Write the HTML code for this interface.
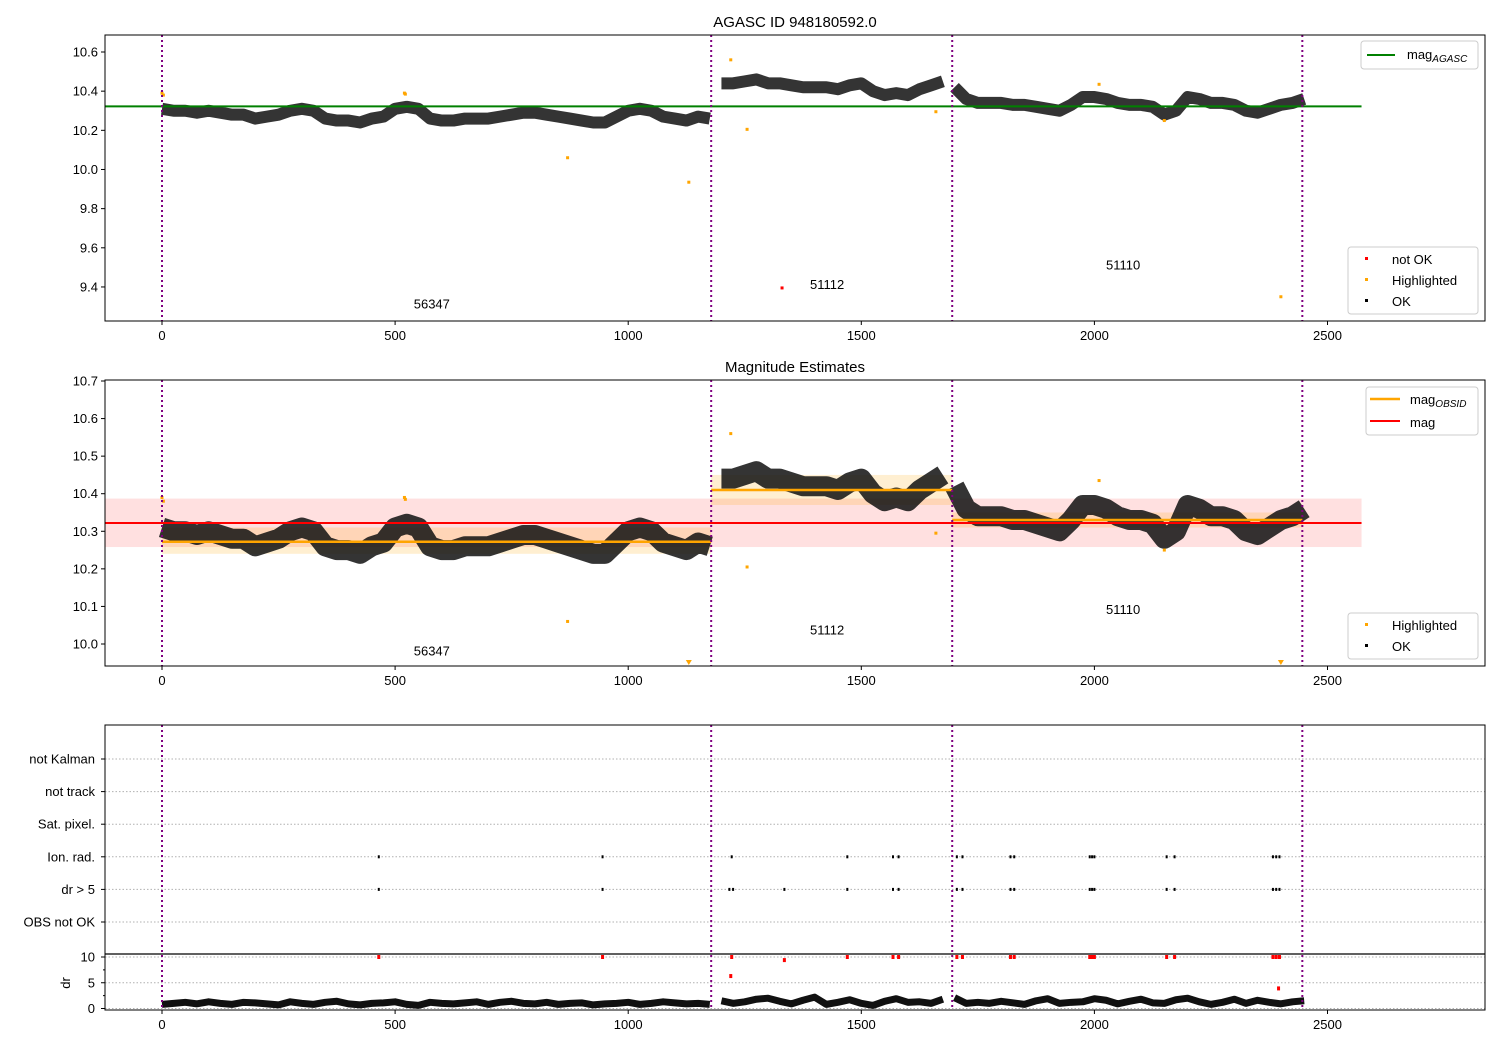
<!DOCTYPE html>
<html><head><meta charset="utf-8">
<style>
body{margin:0;background:#fff;}
svg{display:block;font-family:"Liberation Sans","DejaVu Sans",sans-serif;}
</style></head>
<body>
<svg id="c" width="1500" height="1050" viewBox="0 0 1500 1050" xmlns="http://www.w3.org/2000/svg"></svg>
<script>
// ---- data ----
const STEP = 25;
const mags = [10.31,10.30,10.30,10.29,10.30,10.29,10.28,10.28,10.26,10.27,
 10.28,10.30,10.31,10.30,10.26,10.25,10.25,10.24,10.26,10.27,
 10.31,10.32,10.31,10.26,10.25,10.25,10.26,10.26,10.26,10.27,
 10.28,10.29,10.29,10.28,10.27,10.26,10.25,10.24,10.24,10.27,
 10.30,10.31,10.30,10.27,10.26,10.25,10.27,10.26,10.44,10.44,
 10.45,10.46,10.44,10.44,10.43,10.42,10.42,10.42,10.41,10.43,
 10.44,10.40,10.38,10.39,10.38,10.41,10.43,10.45,10.42,10.36,
 10.34,10.34,10.34,10.33,10.33,10.32,10.31,10.30,10.33,10.37,
 10.37,10.36,10.34,10.33,10.33,10.32,10.28,10.30,10.37,10.36,
 10.34,10.34,10.33,10.30,10.29,10.31,10.33,10.34,10.36];
const drs = [0.8,1.0,1.2,0.9,1.3,1.0,0.8,1.2,1.1,0.9,0.7,1.3,1.0,0.8,1.2,1.4,0.9,0.7,1.0,1.1,
 1.3,0.8,0.6,1.2,1.0,0.9,1.1,1.3,0.8,1.2,1.4,1.0,0.9,1.2,0.8,1.0,1.1,0.7,0.9,1.0,
 1.2,0.8,1.0,1.3,1.1,0.9,1.0,0.8,1.5,1.0,1.3,1.8,2.0,1.4,0.9,1.6,2.2,0.8,1.2,1.7,
 1.0,0.6,1.4,1.9,1.2,1.3,1.0,1.8,2.1,1.0,1.2,1.0,1.4,1.1,0.8,1.5,1.9,1.0,1.2,1.3,
 1.9,1.6,0.9,1.4,1.8,1.1,1.0,1.7,2.0,1.3,0.8,1.2,1.8,1.0,1.6,1.2,0.9,1.3,1.5];
const hiX = [0,3,520,522,870,1130,1220,1255,1660,2010,2150,2400];
const hiY = [10.39,10.38,10.39,10.385,10.06,9.935,10.56,10.205,10.295,10.435,10.25,9.35];
const badX = [1330], badY = [9.395];
const obsBounds = [0,1178,1695,2446];
const obsNames = ['56347','51112','51110'];
const obsLabelX = [540,1390,2025];
const obsLabelY1 = [9.29,9.39,9.49];
const obsLabelY2 = [9.97,10.025,10.08];
const segMean = [10.272,10.41,10.33];
const segLo = [10.24,10.37,10.31];
const segHi = [10.31,10.45,10.35];
const agascMag = 10.322, magLo = 10.258, magHi = 10.387;
const flagCats = ['OBS not OK','dr > 5','Ion. rad.','Sat. pixel.','not track','not Kalman'];
const ionX = [465,945,1222,1470,1568,1580,1705,1717,1820,1828,1990,1995,2000,2155,2172,2383,2390,2397];
const dr5X = [465,945,1217,1225,1335,1470,1568,1580,1705,1717,1820,1828,1990,1995,2000,2155,2172,2383,2390,2397];
const drHighX = [465,945,1222,1335,1470,1568,1580,1705,1717,1820,1828,1990,1995,2000,2155,2172,2383,2390,2397,1220,2395];
const drHighY = [10,10,10,9.4,10,10,10,10,10,10,10,10,10,10,10,10,10,10,10,6.3,3.9];
const xTicks = [0,500,1000,1500,2000,2500];
const y1Ticks = [9.4,9.6,9.8,10.0,10.2,10.4,10.6];
const y2Ticks = [10.0,10.1,10.2,10.3,10.4,10.5,10.6,10.7];
const drTicks = [0,5,10];

// ---- helpers ----
const svg = document.getElementById('c');
const NS = 'http://www.w3.org/2000/svg';
function el(tag, attrs, parent){const e=document.createElementNS(NS,tag);for(const k in attrs)e.setAttribute(k,attrs[k]);(parent||svg).appendChild(e);return e;}
function txt(s, attrs, parent){const e=el('text',attrs,parent);e.textContent=s;return e;}
const L=105,R=1485;
const X = v => 162 + v*0.4662;
const Y1 = v => 52 + (10.6-v)*195.8;
const Y2 = v => 381 + (10.7-v)*375.7;
const YD = v => 1008.5 - v*5.15;
const catY = i => 922 - i*32.6;

function frame(top,bot,name){
  const r=el('rect',{x:L,y:top,width:R-L,height:bot-top,fill:'none',stroke:'#000','stroke-width':1});
  
  
}
function xAxis(bot,name){
  const g=el('g',{});
  
  
  xTicks.forEach(t=>{el('line',{x1:X(t),x2:X(t),y1:bot,y2:bot+4,stroke:'#000'},g);
    txt(String(t),{x:X(t),y:bot+19,'text-anchor':'middle','font-size':13},g);});
}
function yAxis(ticks,Yf,name,fmt){
  const g=el('g',{});
  
  
  ticks.forEach(t=>{el('line',{x1:L-4,x2:L,y1:Yf(t),y2:Yf(t),stroke:'#000'},g);
    txt(fmt(t),{x:L-7,y:Yf(t)+4.5,'text-anchor':'end','font-size':13},g);});
}
function vlines(top,bot,name){
  const g=el('g',{});
  
  
  obsBounds.forEach(b=>el('line',{x1:X(b),x2:X(b),y1:top,y2:bot,stroke:'#800080','stroke-width':2,'stroke-dasharray':'2,3'},g));
}
function series(Yf,top,bot,name,sw){
  const g=el('g',{});
  
  
  const segs=[[0,47],[48,67],[68,98]];
  segs.forEach(([a,b])=>{
    let pts=[];for(let i=a;i<=b;i++){pts.push(X(i*STEP)+','+Yf(mags[i]));}
    el('polyline',{points:pts.join(' '),fill:'none',stroke:'#111','stroke-width':sw,'stroke-linejoin':'round','stroke-linecap':'butt','stroke-opacity':0.85},g);
  });
}
function highlights(Yf,top,bot,name){
  const g=el('g',{});
  
  
  hiX.forEach((x,i)=>{const y=Yf(hiY[i]);
    if(y>bot){el('polygon',{points:`${X(x)-3},${bot-6} ${X(x)+3},${bot-6} ${X(x)},${bot-1}`,fill:'orange'},g);}
    else el('rect',{x:X(x)-1.5,y:y-1.5,width:3,height:3,fill:'orange'},g);});
}
function legendBox(x,y,w,h,name){
  const g=el('g',{});
  
  
  el('rect',{x:x,y:y,width:w,height:h,rx:3,fill:'#fff',stroke:'#ccc'},g);return g;
}

// ---- panel 1 ----
txt('AGASC ID 948180592.0',{x:795,y:27,'text-anchor':'middle','font-size':15,});
series(Y1,35,321,'ok-points-top',12);
el('line',{x1:L,x2:X(2573),y1:Y1(agascMag),y2:Y1(agascMag),stroke:'green','stroke-width':2,});
highlights(Y1,35,321,'highlighted-points-top');
badX.forEach((x,i)=>el('rect',{x:X(x)-1.5,y:Y1(badY[i])-1.5,width:3,height:3,fill:'red',}));
vlines(35,321,'obs-boundaries-top');
obsNames.forEach((n,i)=>txt(n,{x:X(obsLabelX[i]),y:Y1(obsLabelY1[i]),'font-size':13,}));
frame(35,321,'top-axes');xAxis(321,'x-axis-top');yAxis(y1Ticks,Y1,'y-axis-top',t=>t.toFixed(1));
let g=legendBox(1361,41,117,28,'legend-agasc');
el('line',{x1:1367,x2:1395,y1:55,y2:55,stroke:'green','stroke-width':2},g);
let t=txt('mag',{x:1407,y:59,'font-size':13},g);
let ts=el('tspan',{'font-size':10,'font-style':'italic',dy:3},t);ts.textContent='AGASC';
g=legendBox(1348,247,130,67,'legend-status-top');
el('rect',{x:1365,y:257,width:3,height:3,fill:'red'},g);txt('not OK',{x:1392,y:264,'font-size':13},g);
el('rect',{x:1365,y:278,width:3,height:3,fill:'orange'},g);txt('Highlighted',{x:1392,y:285,'font-size':13},g);
el('rect',{x:1365,y:299,width:3,height:3,fill:'#000'},g);txt('OK',{x:1392,y:306,'font-size':13},g);

// ---- panel 2 ----
txt('Magnitude Estimates',{x:795,y:372,'text-anchor':'middle','font-size':15,});
el('rect',{x:L,y:Y2(magHi),width:X(2573)-L,height:Y2(magLo)-Y2(magHi),fill:'red','fill-opacity':0.12,});
segMean.forEach((m,i)=>{
  el('rect',{x:X(obsBounds[i]),y:Y2(segHi[i]),width:X(obsBounds[i+1])-X(obsBounds[i]),height:Y2(segLo[i])-Y2(segHi[i]),fill:'orange','fill-opacity':0.18,});
});
series(Y2,380,666,'ok-points-estimates',20);
segMean.forEach((m,i)=>{
  el('line',{x1:X(obsBounds[i]),x2:X(obsBounds[i+1]),y1:Y2(m),y2:Y2(m),stroke:'orange','stroke-width':2.5,});
});
el('line',{x1:L,x2:X(2573),y1:Y2(agascMag),y2:Y2(agascMag),stroke:'red','stroke-width':2,});
highlights(Y2,380,666,'highlighted-points-estimates');
vlines(380,666,'obs-boundaries-mid');
obsNames.forEach((n,i)=>txt(n,{x:X(obsLabelX[i]),y:Y2(obsLabelY2[i]),'font-size':13,}));
frame(380,666,'mid-axes');xAxis(666,'x-axis-mid');yAxis(y2Ticks,Y2,'y-axis-mid',t=>t.toFixed(1));
g=legendBox(1366,387,112,48,'legend-mag');
el('line',{x1:1370,x2:1400,y1:399,y2:399,stroke:'orange','stroke-width':2.5},g);
t=txt('mag',{x:1410,y:404,'font-size':13},g);
ts=el('tspan',{'font-size':10,'font-style':'italic',dy:3},t);ts.textContent='OBSID';
el('line',{x1:1370,x2:1400,y1:421,y2:421,stroke:'red','stroke-width':2},g);
txt('mag',{x:1410,y:427,'font-size':13},g);
g=legendBox(1348,613,130,46,'legend-status-mid');
el('rect',{x:1365,y:623,width:3,height:3,fill:'orange'},g);txt('Highlighted',{x:1392,y:630,'font-size':13},g);
el('rect',{x:1365,y:644,width:3,height:3,fill:'#000'},g);txt('OK',{x:1392,y:651,'font-size':13},g);

// ---- panel 3: flags ----
g=el('g',{});


flagCats.forEach((c,i)=>{el('line',{x1:L,x2:R,y1:catY(i),y2:catY(i),stroke:'#b0b0b0','stroke-dasharray':'1.5,2'},g);
  el('line',{x1:L-4,x2:L,y1:catY(i),y2:catY(i),stroke:'#000'},g);
  txt(c,{x:L-10,y:catY(i)+4.5,'text-anchor':'end','font-size':13},g);});
g=el('g',{});


ionX.forEach(x=>el('rect',{x:X(x)-1,y:catY(2)-1.5,width:2,height:3,fill:'#000'},g));
dr5X.forEach(x=>el('rect',{x:X(x)-1,y:catY(1)-1.5,width:2,height:3,fill:'#000'},g));
// dr subplot
g=el('g',{});


drTicks.forEach(v=>{el('line',{x1:L,x2:R,y1:YD(v),y2:YD(v),stroke:'#b0b0b0','stroke-dasharray':'1.5,2'},g);
  el('line',{x1:L-4,x2:L,y1:YD(v),y2:YD(v),stroke:'#000'},g);
  txt(String(v),{x:L-10,y:YD(v)+4.5,'text-anchor':'end','font-size':13},g);});
[2.5,7.5].forEach(v=>el('line',{x1:L-2,x2:L,y1:YD(v),y2:YD(v),stroke:'#000'},g));
txt('dr',{x:70,y:983,'text-anchor':'middle','font-size':13,transform:'rotate(-90 70 983)',});
g=el('g',{});


const drSegs=[[0,47],[48,67],[68,98]];
drSegs.forEach(([a,b])=>{let pts=[];for(let i=a;i<=b;i++)pts.push(X(i*STEP)+','+YD(drs[i]));
  el('polyline',{points:pts.join(' '),fill:'none',stroke:'#111','stroke-width':7,'stroke-linejoin':'round'},g);});
g=el('g',{});


drHighX.forEach((x,i)=>el('rect',{x:X(x)-1.5,y:YD(drHighY[i])-2,width:3,height:4,fill:'red'},g));
vlines(725,1010,'obs-boundaries-flags');
frame(725,1010,'flags-axes');
el('line',{x1:L,x2:R,y1:954,y2:954,stroke:'#000','stroke-width':1.2,});
xAxis(1010,'x-axis-flags');
</script>
</body></html>
